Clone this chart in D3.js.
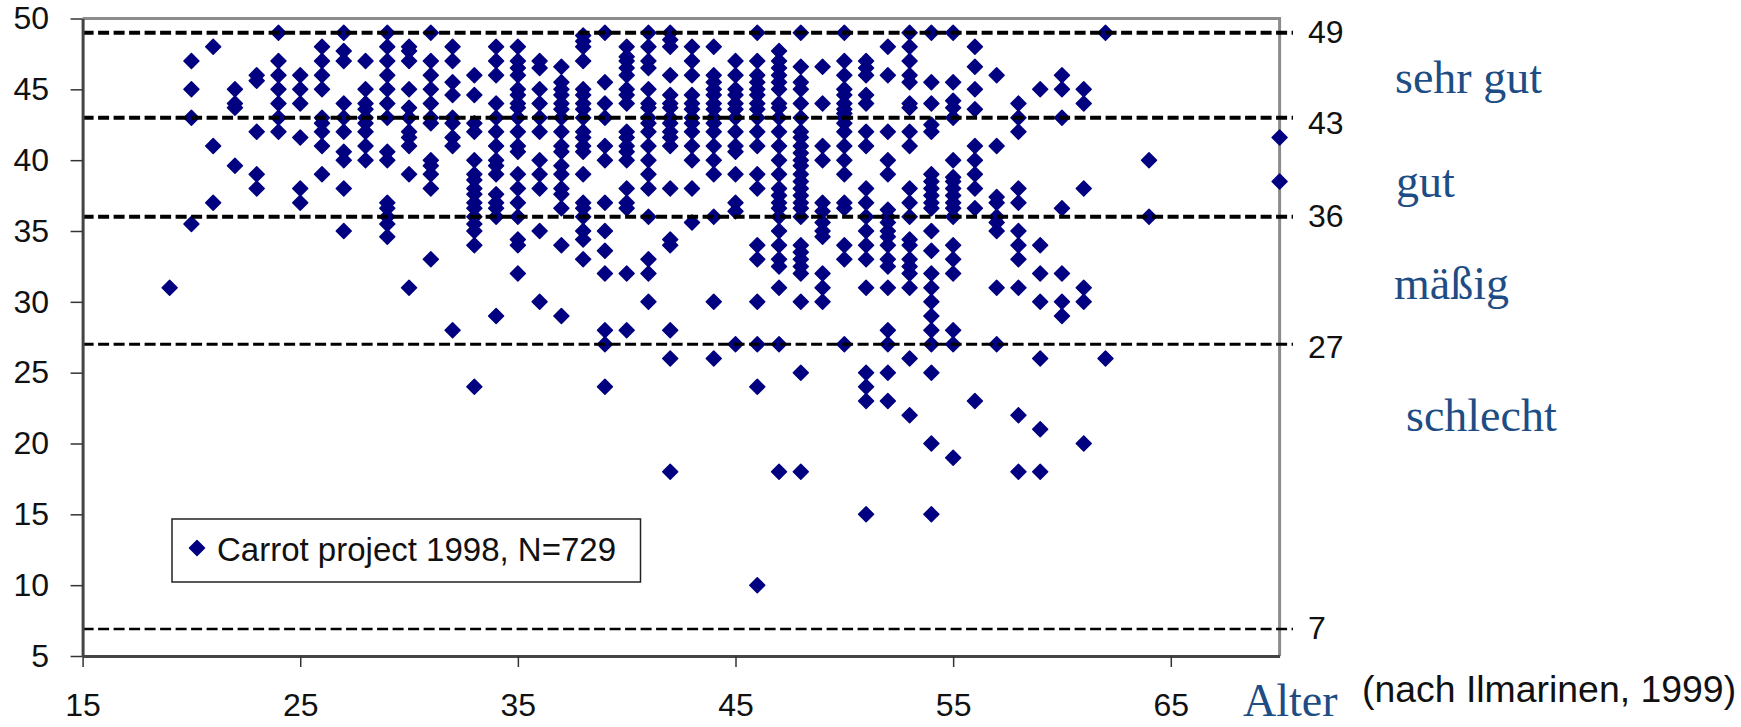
<!DOCTYPE html>
<html>
<head>
<meta charset="utf-8">
<script src="https://cdn.jsdelivr.net/npm/d3@7"></script>
<style>
  html, body { margin: 0; background: #fff; }
  svg { display: block; }
  text { font-family: "Liberation Sans", Arial, sans-serif; fill: #111; }
  .blue { font-family: "Liberation Serif", "Times New Roman", serif; fill: #1d4d84; }
</style>
</head>
<body>
<svg width="1741" height="727"></svg>
<script>
const ages = [19, 20, 21, 22, 23, 24, 25, 26, 27, 28, 29, 30, 31, 32, 33, 34, 35, 36, 37, 38, 39, 40, 41, 42, 43, 44, 45, 46, 47, 48, 49, 50, 51, 52, 53, 54, 55, 56, 57, 58, 59, 60, 61, 62, 64, 70];
const scoresByAge = [
  [31],
  [47, 45, 43, 35.5],
  [48, 41, 37],
  [45, 44, 43.7, 39.6],
  [46, 45.6, 42, 39, 38],
  [49, 47, 46, 45, 44, 43, 42],
  [46, 45, 44, 41.6, 38, 37],
  [48, 47, 46, 45, 43, 42.6, 42, 41, 39],
  [49, 47.7, 47, 44, 43, 42, 40.6, 40, 38, 35],
  [47, 45, 44, 43.6, 43, 42.6, 42, 41, 40],
  [49, 48, 47, 46, 45, 44, 43, 40.6, 40, 37, 36.6, 36, 35.5, 34.6],
  [48, 47.7, 47, 45, 43.7, 43, 42, 41.6, 41, 39, 31],
  [49, 47, 46, 45, 44, 43, 42.6, 40, 39.6, 39, 38, 33],
  [48, 47, 45.5, 44.6, 43, 42.6, 41.6, 41, 28],
  [46, 44.6, 42.6, 42, 40, 39, 38.6, 38, 37.6, 37, 36.6, 36, 35.5, 35, 34, 24],
  [48, 47, 46, 44, 43, 42, 41, 40, 39.6, 39, 37.6, 37, 36.6, 36, 29],
  [48, 47, 46.5, 46, 45, 44.6, 44, 43.7, 43, 42, 41, 40.6, 39, 38, 37, 36, 34.4, 34, 32],
  [47, 46.5, 45, 44, 43, 42, 40, 39, 38, 35, 30],
  [46.6, 45.5, 45, 44.6, 44, 43.6, 43, 42, 41, 40.6, 39.6, 39, 38, 37.6, 36.6, 34, 29],
  [48.8, 48.4, 48, 47, 45, 44.6, 44, 43.6, 43, 42, 41.6, 41, 40.6, 39, 37, 36.6, 36, 35, 34.4, 33],
  [49, 45.5, 44, 43, 41, 40, 37, 35, 33.6, 32, 28, 27, 24],
  [48, 47.3, 47, 46.5, 46, 45, 44.6, 44, 42, 41.6, 41, 40.6, 40, 38, 37, 36.6, 32, 28],
  [49, 48, 47, 46.5, 45, 44, 43.7, 43, 42.6, 42, 41, 40, 39, 38, 36, 33, 32, 30],
  [49, 48.5, 48, 46, 44.6, 44, 43.7, 43, 42.6, 42, 41.6, 41, 38, 34.4, 34, 28, 26, 18],
  [48, 47, 46, 44.6, 44, 43.6, 43, 42.6, 42, 41, 40, 38, 35.6],
  [48, 46, 45.5, 45, 44.6, 44, 43.6, 43, 42.6, 42, 41, 40, 39, 36, 30, 26],
  [47, 46, 45, 44.6, 44, 43.6, 43, 42, 41, 40.6, 39, 37, 36.4, 27],
  [49, 47, 46, 45.5, 45, 44.6, 44, 43.6, 43, 42, 41, 39, 38, 34, 33, 30, 27, 24, 10],
  [47.7, 47, 46.5, 46, 45.5, 45, 44, 43.7, 43, 42, 41, 40, 39, 38, 37.5, 37, 36.6, 36, 35, 34, 33, 32.5, 31, 27, 18],
  [49, 46.6, 45.5, 45, 44, 43, 42, 41.6, 41, 40.5, 40, 39.6, 39, 38.5, 38, 37.5, 37, 36.6, 36, 34, 33.5, 33, 32.5, 32, 30, 25, 18],
  [46.6, 44, 41, 40, 37, 36.4, 35.6, 35, 34.6, 32, 31, 30],
  [49, 47, 46, 45, 44.6, 44, 43.6, 43.3, 43, 42.6, 42, 41, 40, 39, 37, 36.6, 34, 33, 27],
  [47, 46.5, 46, 44.6, 44, 42, 41, 38, 37, 36, 35, 34, 33, 31, 25, 24, 23, 15],
  [48, 46, 42, 40, 39, 36.5, 36, 35.6, 35, 34.6, 34, 33, 32.5, 31, 28, 27, 25, 23],
  [49, 48, 47, 46, 45.5, 44, 43.7, 42, 41, 38, 37, 36, 34.4, 34, 33, 32.5, 32, 31, 26, 22],
  [49, 45.5, 44, 42.5, 42, 39, 38.5, 38, 37.5, 37, 36.6, 35, 33.6, 32, 31, 30, 29, 28, 27, 25, 20, 15],
  [49, 45.5, 44.2, 43.7, 43, 40, 38.8, 38.5, 38, 37.5, 37, 36.6, 36, 34, 33, 32, 28, 27, 19],
  [48, 46.6, 45, 43.6, 41, 40, 39, 38, 36.6, 23],
  [46, 41, 37.4, 37, 36, 35.6, 35, 31, 27],
  [44, 43, 42, 38, 37, 35, 34, 33, 31, 22, 18],
  [45, 34, 32, 30, 26, 21, 18],
  [46, 45, 43, 36.6, 32, 30, 29],
  [45, 44, 38, 31, 30, 20],
  [49, 26],
  [40, 36],
  [41.6, 38.5]
];
const thresholds = [49, 43, 36, 27, 6.9];
const thresholdLabels = ['49', '43', '36', '27', '7'];
const xTicks = [15, 25, 35, 45, 55, 65];
const yTicks = [5, 10, 15, 20, 25, 30, 35, 40, 45, 50];
const bandNames = ['sehr gut', 'gut', 'mäßig', 'schlecht'];

// layout only
const thresholdWidths = [4, 4, 4, 3, 2.5];
const labelShift = [-1, 4.5, -1, 2, -2];
const bandX = [1395, 1396, 1394, 1406];
const bandY = [93, 197, 299, 431];

const svg = d3.select('svg');
const x = d3.scaleLinear().domain([15, 70]).range([82.6, 1279.6]);
const y = d3.scaleLinear().domain([5, 50]).range([656, 18.5]);

let points = [];
ages.forEach((age, i) => {
    scoresByAge[i].forEach((score) => points.push({ age, score }));
});

// frame: top and right are lighter than the two axes
svg.append('path')
    .attr('d', `M${x(15)},${y(50)}H${x(70)}V${y(5)}`)
    .attr('fill', 'none')
    .attr('stroke', '#8c8c8c')
    .attr('stroke-width', 3);

let diamond = d3.symbol().type(d3.symbolSquare).size(112);

svg.append('g')
    .selectAll('path')
    .data(points)
    .join('path')
    .attr('d', diamond)
    .attr('transform', d => `translate(${x(d.age)},${y(d.score)}) rotate(45)`)
    .attr('fill', '#000080')
    .attr('stroke', '#000080')
    .attr('stroke-width', 1.5)
    .attr('stroke-linejoin', 'round');

// dashed class limits, running past the right edge of the frame
thresholds.forEach((t, i) => {
    svg.append('line')
        .attr('x1', x(15))
        .attr('x2', 1293)
        .attr('y1', y(t))
        .attr('y2', y(t))
        .attr('stroke', '#000')
        .attr('stroke-width', thresholdWidths[i])
        .attr('stroke-dasharray', '11,4.5');
    svg.append('text')
        .attr('x', 1308)
        .attr('y', y(t) + labelShift[i] + 11.5)
        .attr('font-size', 32)
        .text(thresholdLabels[i]);
});

let xAxis = d3.axisBottom(x).tickValues(xTicks).tickSizeInner(11).tickSizeOuter(0).tickPadding(26);
let yAxis = d3.axisLeft(y).tickValues(yTicks).tickSizeInner(12).tickSizeOuter(0).tickPadding(21.5);

let gx = svg.append('g').attr('transform', `translate(0,${y(5)})`).call(xAxis);
let gy = svg.append('g').attr('transform', `translate(${x(15)},0)`).call(yAxis);
[gx, gy].forEach((g) => {
    g.selectAll('text').attr('font-size', 32).attr('font-family', '"Liberation Sans", Arial, sans-serif').attr('fill', '#111');
    g.selectAll('line').attr('stroke', '#333').attr('stroke-width', 1.5);
    g.select('.domain').attr('stroke', '#444').attr('stroke-width', 3);
});

// legend
svg.append('rect')
    .attr('x', 172)
    .attr('y', 519)
    .attr('width', 468.5)
    .attr('height', 63)
    .attr('fill', '#fff')
    .attr('stroke', '#222')
    .attr('stroke-width', 1.5);
svg.append('path')
    .attr('d', diamond)
    .attr('transform', 'translate(197,548) rotate(45)')
    .attr('fill', '#000080')
    .attr('stroke', '#000080')
    .attr('stroke-width', 1.5)
    .attr('stroke-linejoin', 'round');
svg.append('text')
    .attr('x', 217)
    .attr('y', 561)
    .attr('font-size', 33)
    .text('Carrot project 1998, N=729');

// ratings and source notes at the right
bandNames.forEach((name, i) => {
    svg.append('text')
        .attr('class', 'blue')
        .attr('x', bandX[i])
        .attr('y', bandY[i])
        .attr('font-size', 46)
        .text(name);
});
svg.append('text')
    .attr('class', 'blue')
    .attr('x', 1243)
    .attr('y', 716)
    .attr('font-size', 46)
    .text('Alter');
svg.append('text')
    .attr('x', 1362)
    .attr('y', 702)
    .attr('font-size', 37.4)
    .text('(nach Ilmarinen, 1999)');
</script>
</body>
</html>
